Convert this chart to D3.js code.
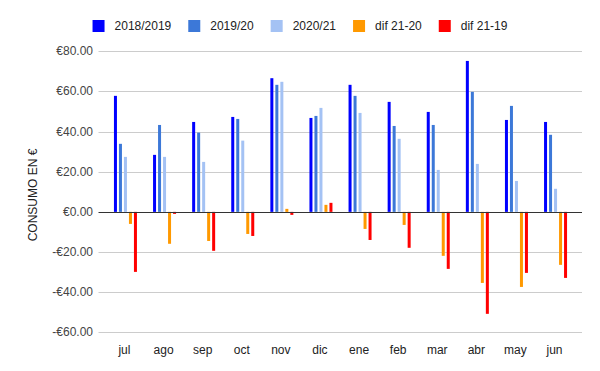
<!DOCTYPE html>
<html>
<head>
<meta charset="utf-8">
<script src="https://cdnjs.cloudflare.com/ajax/libs/d3/7.8.5/d3.min.js"></script>
<style>
  body { margin: 0; background: #fff; }
  svg { font-family: Arial, "Liberation Sans", sans-serif; }
</style>
</head>
<body>
<div id="viz"></div>
<script>
const width = 600;
const height = 371;

// Data
const months = ['jul', 'ago', 'sep', 'oct', 'nov', 'dic', 'ene', 'feb', 'mar', 'abr', 'may', 'jun'];
const seriesNames = ['2018/2019', '2019/20', '2020/21', 'dif 21-20', 'dif 21-19'];
const v1819 = [57.8, 28.4, 44.8, 47.3, 66.6, 46.8, 63.3, 54.8, 49.8, 75.2, 45.8, 44.8];
const v1920 = [33.9, 43.3, 39.5, 46.3, 63.3, 47.8, 57.8, 42.8, 43.3, 59.8, 52.8, 38.4];
const v2021 = [27.4, 27.4, 24.9, 35.5, 64.8, 51.8, 49.3, 36.4, 20.9, 23.9, 15.4, 11.5];
const dif2120 = [-6.0, -15.9, -14.5, -11.0, 1.5, 3.5, -8.5, -6.5, -21.9, -35.4, -37.4, -26.4];
const dif2119 = [-29.9, -1.0, -19.4, -12.0, -1.5, 4.5, -14.0, -17.9, -28.4, -50.8, -30.4, -32.9];
const yTicks = [-60, -40, -20, 0, 20, 40, 60, 80];

const colors = ['#0000ff', '#3c78d8', '#a4c2f4', '#ff9900', '#ff0000'];
const allSeries = [v1819, v1920, v2021, dif2120, dif2119];

const data = [];
months.forEach((m, i) => {
  seriesNames.forEach((s, j) => {
    data.push({month: m, series: s, value: allSeries[j][i]});
  });
});

const svg = d3.select('#viz')
  .append('svg')
    .attr('width', width)
    .attr('height', height);

// Scales
const gridLeft = 98.5;
const gridRight = 582;
const xScale = d3.scaleBand()
  .domain(months)
  .range([105.9, 575.1]);
const xInner = d3.scaleBand()
  .domain(seriesNames)
  .range([-12.5, 12.5]);
const colorScale = d3.scaleOrdinal()
  .domain(seriesNames)
  .range(colors);
const yScale = d3.scaleLinear()
  .domain([-60, 80])
  .range([332.3, 51.3]);

// Gridlines
svg.append('g')
    .attr('class', 'grid')
  .selectAll('line')
  .data(yTicks.filter(t => t !== 0))
  .join('line')
    .attr('x1', gridLeft)
    .attr('x2', gridRight)
    .attr('y1', d => Math.round(yScale(d)) + 0.5)
    .attr('y2', d => Math.round(yScale(d)) + 0.5)
    .attr('stroke', '#cccccc')
    .attr('stroke-width', 1);

// Y axis labels
const euro = d3.format(',.2f');
svg.append('g')
    .attr('class', 'y-labels')
  .selectAll('text')
  .data(yTicks)
  .join('text')
    .attr('x', 93)
    .attr('y', d => yScale(d) + 4)
    .attr('text-anchor', 'end')
    .attr('fill', '#444')
    .style('font-size', '12px')
    .text(d => (d < 0 ? '-€' : '€') + euro(Math.abs(d)));

// Bars
svg.append('g')
    .attr('class', 'bars')
  .selectAll('rect')
  .data(data)
  .join('rect')
    .attr('x', d => xScale(d.month) + xScale.bandwidth() / 2 + xInner(d.series) + 1)
    .attr('width', 3)
    .attr('y', d => Math.min(yScale(d.value), yScale(0)))
    .attr('height', d => Math.abs(yScale(d.value) - yScale(0)))
    .attr('fill', d => colorScale(d.series));

// Zero line
svg.append('line')
    .attr('x1', gridLeft)
    .attr('x2', gridRight)
    .attr('y1', Math.round(yScale(0)) + 0.5)
    .attr('y2', Math.round(yScale(0)) + 0.5)
    .attr('stroke', '#333')
    .attr('stroke-width', 1);

// X labels
svg.append('g')
    .attr('class', 'x-labels')
  .selectAll('text')
  .data(months)
  .join('text')
    .attr('x', d => xScale(d) + xScale.bandwidth() / 2 - 1)
    .attr('y', 354)
    .attr('text-anchor', 'middle')
    .attr('fill', '#222')
    .style('font-size', '12px')
    .text(d => d);

// Axis title
svg.append('text')
    .attr('transform', 'translate(37, 195) rotate(-90)')
    .attr('text-anchor', 'middle')
    .attr('fill', '#222')
    .style('font-size', '12px')
    .text('CONSUMO EN €');

// Legend
const legend = svg.append('g').attr('class', 'legend');
const items = legend.selectAll('g')
  .data(seriesNames)
  .join('g');
items.append('rect')
    .attr('width', 12)
    .attr('height', 12)
    .attr('y', 20)
    .attr('fill', d => colorScale(d));
items.append('text')
    .attr('x', 22)
    .attr('y', 30)
    .attr('fill', '#222')
    .style('font-size', '12px')
    .text(d => d);
// lay out legend items centred
let offset = 0;
const positions = [];
items.each(function() {
  const w = 22 + d3.select(this).select('text').node().getComputedTextLength();
  positions.push(offset);
  offset += w + 17;
});
const totalWidth = offset - 17;
const start = width / 2 - totalWidth / 2;
items.attr('transform', (d, i) => `translate(${start + positions[i]}, 0)`);
</script>
</body>
</html>
